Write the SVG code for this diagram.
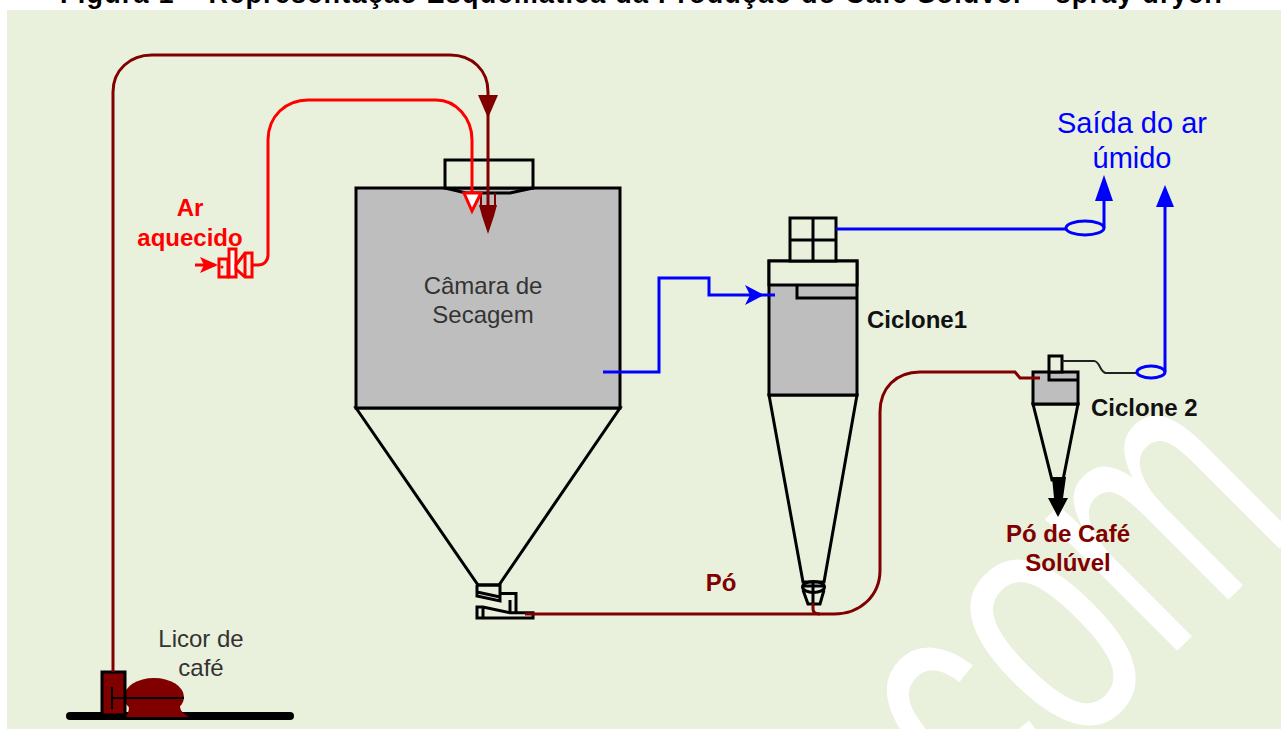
<svg xmlns="http://www.w3.org/2000/svg" width="1281" height="729" viewBox="0 0 1281 729">
<style>
text{font-family:"Liberation Sans",Arial,sans-serif}
.k{fill:none;stroke:#000;stroke-width:3}
.ke{fill:#e9f0dc;stroke:#000;stroke-width:3}
.g{fill:#bebebe;stroke:#000;stroke-width:3}
.br{fill:none;stroke:#800000;stroke-width:3}
.brf{fill:#800000}
.r{fill:none;stroke:#ff0000;stroke-width:3}
.b{fill:none;stroke:#0000ff;stroke-width:3}
.bf{fill:#0000ff}
.lbl{font-size:24px;fill:#333333;text-anchor:middle}
.red{font-size:24px;font-weight:bold;fill:#ff0000;text-anchor:middle}
.blu{font-size:29px;fill:#0000ff;text-anchor:middle}
.blk{font-size:24px;font-weight:bold;fill:#111111}
.mar{font-size:24px;font-weight:bold;fill:#800000;text-anchor:middle}
</style>
<rect width="1281" height="729" fill="#ffffff"/>
<text x="60" y="3" font-size="27" font-weight="bold" fill="#000" textLength="1162" lengthAdjust="spacing">Figura 1 – Representação Esquemática da Produção do Café Solúvel  –  spray dryer.</text>
<rect x="7" y="10" width="1274" height="719" fill="#e9f0dc"/>
<text transform="translate(989,839) rotate(-45) scale(0.67,1)" font-size="353" fill="#ffffff">com</text>

<g id="camara">
<path class="ke" d="M356 408L478 585H499L620 408Z"/>
<rect class="g" x="356" y="188" width="264" height="220"/>
<rect class="ke" x="445" y="160" width="88" height="28"/>
<path class="k" d="M445 188L466 193H510L533 188" stroke-width="2"/>
<text class="lbl" x="483" y="294">Câmara de</text>
<text class="lbl" x="483" y="323">Secagem</text>
</g>

<g id="valvula">
<path class="k" d="M477 585H500V593.5H516V612M477 585V596L500 601V593.5M477 592L500 597M510 600V612"/>
<path class="k" d="M477 607V618H533V612.7H510L483 607ZM483 607V618"/>
</g>

<g id="ciclone1">
<path class="ke" d="M769 395L803 582H824L857 395Z"/>
<rect class="g" x="769" y="261" width="88" height="134"/>
<rect class="ke" x="769" y="261" width="88" height="24"/>
<path class="k" d="M797 285V298H857"/>
<rect class="ke" x="790" y="218" width="46" height="43"/>
<path class="k" d="M813 218V261M790 240H836"/>
<ellipse class="k" cx="813.5" cy="587" rx="11" ry="5.5"/>
<path class="k" d="M803 590L808 604H820L824 590M803 586H824M813 582V604"/>
<text class="blk" x="867" y="328">Ciclone1</text>
</g>

<g id="ciclone2">
<path class="ke" d="M1033 404L1052 480H1063L1078 404Z"/>
<rect class="g" x="1033" y="372" width="45" height="32"/>
<path class="k" d="M1049 372V380H1078"/>
<rect class="ke" x="1049" y="356" width="13" height="16"/>
<text class="blk" x="1091" y="416">Ciclone 2</text>
</g>

<g id="bomba">
<rect x="66" y="712" width="228" height="8" rx="4" fill="#000"/>
<ellipse class="brf" cx="154" cy="697" rx="30" ry="19"/>
<path class="brf" d="M129 706H180C180 711 184 714 189 717H125C128 714 129 711 129 706Z"/>
<rect x="102" y="672" width="23" height="43" fill="#800000" stroke="#000" stroke-width="3"/>
<path d="M112 687V709M112 698H184" fill="none" stroke="#000" stroke-width="2"/>
<text class="lbl" x="201" y="647">Licor de</text>
<text class="lbl" x="201" y="676">café</text>
</g>

<g id="ar-aquecido">
<path d="M195 265H215" class="r"/>
<path d="M200 257L218 265L200 273L204 265Z" fill="#ff0000"/>
<rect x="219" y="259" width="9" height="18" fill="#e9f0dc" stroke="#ff0000" stroke-width="3"/>
<circle cx="222" cy="267" r="1.5" fill="#ff0000"/>
<rect x="229" y="249" width="7" height="28" fill="#ffffff" stroke="#ff0000" stroke-width="3"/>
<path d="M236 265L245 253H252V277H245L236 269Z" fill="#e9f0dc" stroke="#ff0000" stroke-width="3"/>
<path d="M245 253V277" class="r"/>
<text class="red" x="190" y="216">Ar</text>
<text class="red" x="190" y="246">aquecido</text>
</g>

<g id="conectores">
<path class="br" d="M113 672V92C113 70 130 55 152 55H450C472 55 488 70 488 92V205"/>
<path class="brf" d="M478 95H498L488 118Z"/>
<path d="M481 193V205M495 193V205" fill="none" stroke="#800000" stroke-width="2"/>
<path class="brf" d="M479 205H497L494 216L488 234L482 216Z"/>
<path class="r" d="M252 265H258C264 265 268 261 268 255V140C268 116 286 100 308 100H436C456 100 472 118 472 140V195"/>
<path d="M464 193H481L472 211Z" fill="#ffffff" stroke="#ff0000" stroke-width="3"/>
<path class="br" d="M525 614H834C860 614 880 596 880 570V412C880 388 896 372 920 372H1015L1020 378H1040"/>
<path class="br" d="M813 603V609Q813 614 820 614"/>
<path class="b" d="M603 372H659V278H709V295H775"/>
<path class="bf" d="M745 285L764 295L745 305L750 295Z"/>
<path class="b" d="M836 229H1066"/>
<ellipse class="b" cx="1085" cy="228" rx="19" ry="7"/>
<path class="b" d="M1104 228V198"/>
<path class="bf" d="M1104 175L1113 201H1095Z"/>
<path d="M1062 361H1094C1100 361 1100 373 1106 373H1137" fill="none" stroke="#222" stroke-width="2"/>
<ellipse class="b" cx="1151" cy="372" rx="14" ry="6"/>
<path class="b" d="M1165 372V204"/>
<path class="bf" d="M1165 185L1174 207H1156Z"/>
<path d="M1052 477H1066L1063 498H1068L1058 517L1048 498H1054Z" fill="#000"/>
</g>

<text class="mar" x="721" y="591">Pó</text>
<text class="mar" x="1068" y="542">Pó de Café</text>
<text class="mar" x="1068" y="571">Solúvel</text>
<g id="saida">
<text class="blu" x="1132" y="133">Saída do ar</text>
<text class="blu" x="1132" y="168">úmido</text>
</g>
</svg>
